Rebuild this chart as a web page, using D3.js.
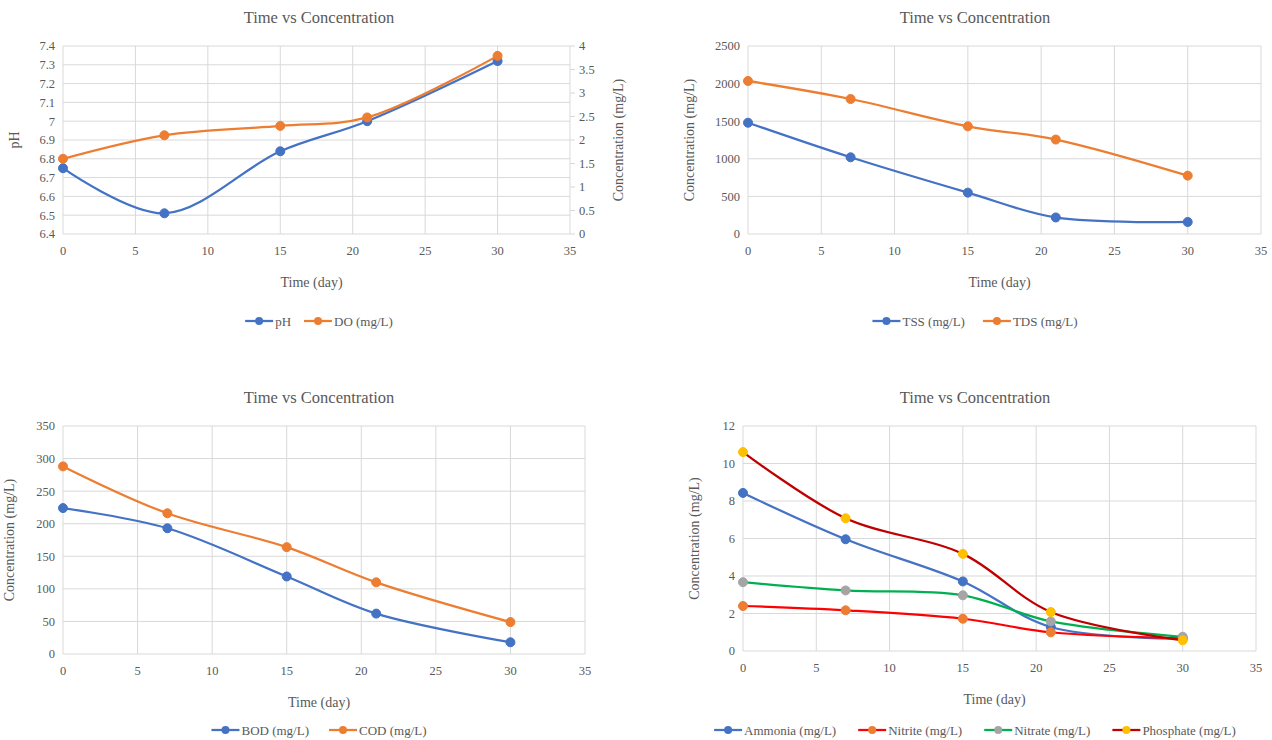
<!DOCTYPE html>
<html>
<head>
<meta charset="utf-8">
<script src="https://cdn.jsdelivr.net/npm/d3@7"></script>
<style>
  body { margin: 0; background: #fff; }
  text { font-family: "Times New Roman", "Liberation Serif", "DejaVu Serif", serif; fill: #595959; }
</style>
</head>
<body>
<svg id="chart" width="1272" height="740"></svg>
<script>
// days sampled
const days = [0, 7, 15, 21, 30];
const xTicks = [0, 5, 10, 15, 20, 25, 30, 35];

// chart 1
const ph = [6.75, 6.51, 6.84, 7.0, 7.32];
const doMgL = [1.6, 2.1, 2.3, 2.48, 3.79];
const phTicks = [6.4, 6.5, 6.6, 6.7, 6.8, 6.9, 7.0, 7.1, 7.2, 7.3, 7.4];
const doTicks = [0, 0.5, 1, 1.5, 2, 2.5, 3, 3.5, 4];

// chart 2
const tss = [1480, 1020, 550, 220, 160];
const tds = [2035, 1795, 1432, 1256, 776];
const solidTicks = [0, 500, 1000, 1500, 2000, 2500];

// chart 3
const bod = [224, 193, 119, 62, 18];
const cod = [288, 216, 164, 110, 49];
const oxyTicks = [0, 50, 100, 150, 200, 250, 300, 350];

// chart 4
const ammonia = [8.43, 5.96, 3.71, 1.28, 0.66];
const nitrite = [2.4, 2.17, 1.72, 1.0, 0.68];
const nitrate = [3.67, 3.23, 2.97, 1.58, 0.76];
const phosphate = [10.61, 7.08, 5.18, 2.08, 0.57];
const nutrientTicks = [0, 2, 4, 6, 8, 10, 12];

const blue = "#4472C4", orange = "#ED7D31";
const svg = d3.select("#chart");
const grid = "#d9d9d9";

function fmt(v) { return String(+v.toFixed(2)); }

function panel(cfg) {
  const g = svg.append("g");
  const x = d3.scaleLinear().domain([0, 35]).range([cfg.x0, cfg.x1]);
  const y = d3.scaleLinear().domain(d3.extent(cfg.yTicks)).range([cfg.yBot, cfg.yTop]);

  // grid
  g.selectAll(".hg").data(cfg.yTicks).enter().append("line")
    .attr("x1", cfg.x0).attr("x2", cfg.x1)
    .attr("y1", d => y(d)).attr("y2", d => y(d))
    .attr("stroke", grid).attr("stroke-width", 1);
  g.selectAll(".vg").data(xTicks).enter().append("line")
    .attr("x1", d => x(d)).attr("x2", d => x(d))
    .attr("y1", cfg.yTop).attr("y2", cfg.yBot)
    .attr("stroke", grid).attr("stroke-width", 1);

  // tick labels
  g.selectAll(".yl").data(cfg.yTicks).enter().append("text")
    .attr("x", cfg.x0 - 8).attr("y", d => y(d)).attr("dy", "0.35em")
    .attr("text-anchor", "end").attr("font-size", 12.5).text(fmt);
  g.selectAll(".xl").data(xTicks).enter().append("text")
    .attr("x", d => x(d)).attr("y", cfg.yBot + 21)
    .attr("text-anchor", "middle").attr("font-size", 12.5).text(d => d);

  let y2 = null;
  if (cfg.y2Ticks) {
    y2 = d3.scaleLinear().domain(d3.extent(cfg.y2Ticks)).range([cfg.yBot, cfg.yTop]);
    g.selectAll(".rt").data(cfg.y2Ticks).enter().append("line")
      .attr("x1", cfg.x1).attr("x2", cfg.x1 + 5)
      .attr("y1", d => y2(d)).attr("y2", d => y2(d))
      .attr("stroke", grid);
    g.selectAll(".y2l").data(cfg.y2Ticks).enter().append("text")
      .attr("x", cfg.x1 + 9).attr("y", d => y2(d)).attr("dy", "0.35em")
      .attr("text-anchor", "start").attr("font-size", 12.5).text(fmt);
    g.append("text")
      .attr("transform", `translate(${cfg.x1 + 53},${(cfg.yTop + cfg.yBot) / 2}) rotate(-90)`)
      .attr("text-anchor", "middle").attr("font-size", 14).text(cfg.y2Title);
  }

  // titles
  g.append("text").attr("x", cfg.cx).attr("y", cfg.yTop - 23)
    .attr("text-anchor", "middle").attr("font-size", 16.5).text("Time vs Concentration");
  g.append("text").attr("x", (cfg.x0 + cfg.x1) / 2 - 5).attr("y", cfg.yBot + 53)
    .attr("text-anchor", "middle").attr("font-size", 14).text("Time (day)");
  g.append("text")
    .attr("transform", `translate(${cfg.yTitleX},${(cfg.yTop + cfg.yBot) / 2}) rotate(-90)`)
    .attr("text-anchor", "middle").attr("font-size", 14).text(cfg.yTitle);

  // series
  const line = d3.line().curve(d3.curveCatmullRom.alpha(0.5));
  cfg.series.forEach(s => {
    const ys = s.axis2 ? y2 : y;
    const pts = days.map((d, i) => [x(d), ys(s.values[i])]);
    g.append("path").attr("d", line(pts)).attr("fill", "none")
      .attr("stroke", s.line).attr("stroke-width", 2.25);
    g.selectAll(null).data(pts).enter().append("circle")
      .attr("cx", p => p[0]).attr("cy", p => p[1]).attr("r", 4.5)
      .attr("fill", s.marker).attr("stroke", s.marker);
  });

  // legend
  const lg = g.append("g");
  let off = 0;
  cfg.series.forEach(s => {
    const it = lg.append("g").attr("transform", `translate(${off},0)`);
    it.append("line").attr("x1", 0).attr("x2", 28).attr("y1", 0).attr("y2", 0)
      .attr("stroke", s.line).attr("stroke-width", 2.25);
    it.append("circle").attr("cx", 14).attr("cy", 0).attr("r", 4).attr("fill", s.marker);
    const t = it.append("text").attr("x", 30).attr("y", 0).attr("dy", "0.35em")
      .attr("font-size", 13).text(s.name);
    off += 30 + t.node().getComputedTextLength() + cfg.legendGap;
  });
  off -= cfg.legendGap;
  lg.attr("transform", `translate(${cfg.cx - off / 2},${cfg.legendY})`);
}

panel({
  x0: 63, x1: 570, yTop: 46, yBot: 234, cx: 319, legendY: 321, legendGap: 13, yTitleX: 19,
  yTicks: phTicks, yTitle: "pH", y2Ticks: doTicks, y2Title: "Concentration (mg/L)",
  series: [
    { name: "pH", values: ph, line: blue, marker: blue },
    { name: "DO (mg/L)", values: doMgL, line: orange, marker: orange, axis2: true }
  ]
});
panel({
  x0: 748, x1: 1261, yTop: 46, yBot: 234, cx: 975, legendY: 321, legendGap: 18, yTitleX: 694,
  yTicks: solidTicks, yTitle: "Concentration (mg/L)",
  series: [
    { name: "TSS (mg/L)", values: tss, line: blue, marker: blue },
    { name: "TDS (mg/L)", values: tds, line: orange, marker: orange }
  ]
});
panel({
  x0: 63, x1: 585, yTop: 426, yBot: 654, cx: 319, legendY: 730, legendGap: 20, yTitleX: 14,
  yTicks: oxyTicks, yTitle: "Concentration (mg/L)",
  series: [
    { name: "BOD (mg/L)", values: bod, line: blue, marker: blue },
    { name: "COD (mg/L)", values: cod, line: orange, marker: orange }
  ]
});
panel({
  x0: 743, x1: 1256, yTop: 426, yBot: 651, cx: 975, legendY: 730, legendGap: 22, yTitleX: 699,
  yTicks: nutrientTicks, yTitle: "Concentration (mg/L)",
  series: [
    { name: "Ammonia (mg/L)", values: ammonia, line: blue, marker: blue },
    { name: "Nitrite (mg/L)", values: nitrite, line: "#FF0000", marker: orange },
    { name: "Nitrate (mg/L)", values: nitrate, line: "#00B050", marker: "#A5A5A5" },
    { name: "Phosphate (mg/L)", values: phosphate, line: "#C00000", marker: "#FFC000" }
  ]
});
</script>
</body>
</html>
